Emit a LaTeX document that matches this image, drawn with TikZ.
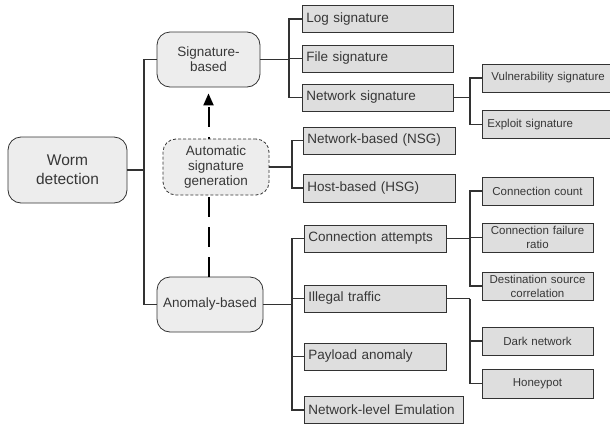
\documentclass[tikz,border=0pt]{standalone}
\usepackage{fontspec}
\setmainfont{Liberation Sans}
\usetikzlibrary{arrows.meta,shadows}
\definecolor{rfill}{RGB}{222,222,222}
\definecolor{ofill}{RGB}{237,237,237}
\definecolor{edge}{RGB}{50,50,50}
\definecolor{txt}{RGB}{55,55,55}
\begin{document}
\begin{tikzpicture}[x=1pt,y=-1pt,
  boxshadow/.style={general shadow={shadow xshift=0.9pt,shadow yshift=-0.9pt,fill=edge}},
  lbox/.style={draw=edge,fill=rfill,line width=0.8pt,rectangle,anchor=west,
    inner xsep=4pt,inner ysep=0pt,align=left,text=txt,text width=#1pt,
    minimum height=27,font=\fontsize{13.5}{16}\selectfont,boxshadow},
  sbox/.style={draw=edge,fill=rfill,line width=0.8pt,rectangle,
    inner sep=0pt,align=center,text=txt,text width=105pt,
    minimum width=111,minimum height=28,font=\fontsize{11.5}{14}\selectfont,boxshadow},
  obox/.style={draw=edge,fill=ofill,line width=0.8pt,rounded corners=13pt,
    inner sep=0pt,align=center,text=txt,font=\fontsize{13.5}{15}\selectfont},
  conn/.style={draw=edge,line width=1.1pt},
  dasharrow/.style={draw=black,line width=2pt,dash pattern=on 20pt off 10pt,
    -{Triangle[length=12pt,width=10pt]},shorten >=6pt}
]
\useasboundingbox (0,0) rectangle (610,426);

% main rounded nodes
\node[obox,minimum width=119,minimum height=66,font=\fontsize{15.5}{19}\selectfont]
  (worm) at (67.5,170) {Worm\\detection};
\node[obox,minimum width=103,minimum height=55] (sig) at (208.5,59.5) {Signature-\\based};
\node[obox,minimum width=106,minimum height=55] (anom) at (210,304.5) {Anomaly-based};

% dashed arrow (behind automatic box)
\draw[dasharrow] (sig.south |- anom.north) -- (sig.south);

\node[obox,dashed,dash pattern=on 3pt off 2pt,minimum width=106,minimum height=56]
  (auto) at (216,167) {Automatic\\signature\\generation};

% signature children
\node[lbox=143] (log) at (302,19) {Log signature};
\node[lbox=143] (file) at (302,58.5) {File signature};
\node[lbox=143] (netsig) at (302,97.5) {Network signature};

\node[lbox=135,minimum height=28,inner xsep=9pt,font=\fontsize{11.5}{14}\selectfont] (vuln) at (482,78) {Vulnerability signature};
\node[lbox=120,minimum height=28,inner xsep=5pt,font=\fontsize{11.5}{14}\selectfont] (expl) at (482,124.5) {Exploit signature};

% automatic children
\node[lbox=144] (nsg) at (303,140.5) {Network-based (NSG)};
\node[lbox=144,minimum height=28] (hsg) at (303,188) {Host-based (HSG)};

% anomaly children
\node[lbox=134] (ca) at (304,238.5) {Connection attempts};
\node[lbox=134] (il) at (304,298.5) {Illegal traffic};
\node[lbox=134] (pa) at (304,356.5) {Payload anomaly};
\node[lbox=151] (nle) at (304,410) {Network-level Emulation};

\node[sbox] (cc) at (537.5,191) {Connection count};
\node[sbox,minimum height=29] (cfr) at (537.5,237.5) {Connection failure\\ratio};
\node[sbox] (dsc) at (537.5,286) {Destination source\\correlation};
\node[sbox] (dark) at (537.5,341) {Dark network};
\node[sbox,minimum height=29] (honey) at (537.5,383.5) {Honeypot};

% branch points
\coordinate (t0) at (144,170);
\coordinate (b1) at (289,59.5);
\coordinate (b2) at (292,167);
\coordinate (b3) at (470,97.5);
\coordinate (b4) at (292,304.5);
\coordinate (b5) at (470,238.5);
\coordinate (b6) at (470,298.5);

% connectors
\draw[conn] (worm.east) -- (t0);
\draw[conn] (sig.west) -| (t0);
\draw[conn] (anom.west) -| (t0);

\draw[conn] (sig.east) -- (b1);
\draw[conn] (log.west) -| (b1);
\draw[conn] (file.west) -| (b1);
\draw[conn] (netsig.west) -| (b1);

\draw[conn] (auto.east) -- (b2);
\draw[conn] (nsg.west) -| (b2);
\draw[conn] (hsg.west) -| (b2);

\draw[conn] (netsig.east) -- (b3);
\draw[conn] (vuln.west) -| (b3);
\draw[conn] (expl.west) -| (b3);

\draw[conn] (anom.east) -- (b4);
\draw[conn] (ca.west) -| (b4);
\draw[conn] (il.west) -| (b4);
\draw[conn] (pa.west) -| (b4);
\draw[conn] (nle.west) -| (b4);

\draw[conn] (ca.east) -- (b5);
\draw[conn] (cc.west) -| (b5);
\draw[conn] (cfr.west) -| (b5);
\draw[conn] (dsc.west) -| (b5);

\draw[conn] (il.east) -- (b6);
\draw[conn] (dark.west) -| (b6);
\draw[conn] (honey.west) -| (b6);
\end{tikzpicture}
\end{document}
